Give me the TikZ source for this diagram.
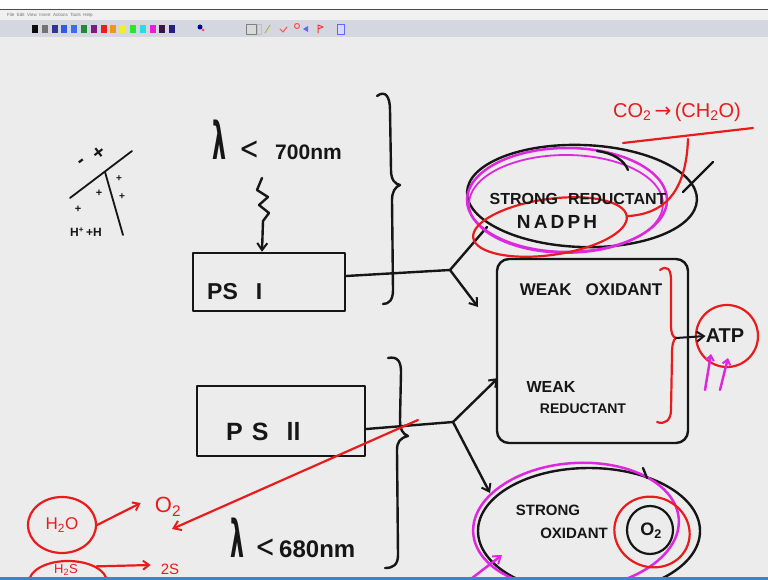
\documentclass[tikz,border=0pt]{standalone}
\usepackage{fontspec}
\setmainfont{Liberation Sans}
\newfontfamily\djv{DejaVu Sans}
\usetikzlibrary{arrows.meta,shapes.geometric}
\definecolor{board}{RGB}{236,236,236}
\definecolor{ink}{RGB}{22,22,22}
\definecolor{mred}{RGB}{232,28,28}
\definecolor{mmag}{RGB}{222,40,222}
\definecolor{barblue}{RGB}{62,132,200}
\definecolor{tbar}{RGB}{212,214,224}
\definecolor{tc0}{RGB}{10,10,10}
\definecolor{tc1}{RGB}{115,115,115}
\definecolor{tc2}{RGB}{55,50,150}
\definecolor{tc3}{RGB}{50,90,225}
\definecolor{tc4}{RGB}{60,110,230}
\definecolor{tc5}{RGB}{30,140,50}
\definecolor{tc6}{RGB}{120,30,130}
\definecolor{tc7}{RGB}{230,30,30}
\definecolor{tc8}{RGB}{240,150,30}
\definecolor{tc9}{RGB}{240,240,40}
\definecolor{tc10}{RGB}{40,230,40}
\definecolor{tc11}{RGB}{40,220,225}
\definecolor{tc12}{RGB}{230,30,220}
\definecolor{tc13}{RGB}{60,20,70}
\definecolor{tc14}{RGB}{40,30,130}
\begin{document}
\begin{tikzpicture}[x=1pt,y=-1pt,line cap=round,line join=round,
  inkline/.style={draw=ink,line width=2.4pt},
  redline/.style={draw=mred,line width=2.2pt},
  magline/.style={draw=mmag,line width=2.5pt},
  hw/.style={text=ink,inner sep=0pt,font=\fontsize{#1}{#1}\selectfont\bfseries},
  hwr/.style={text=mred,inner sep=0pt,font=\fontsize{#1}{#1}\selectfont},
  barb/.style={-{Straight Barb[length=7pt,width=10pt,line width=2pt]}},
  boxnode/.style={draw=ink,line width=2.4pt,inner sep=0pt,rectangle},
  ovalnode/.style={ellipse,inner sep=0pt}]
\useasboundingbox (0,0) rectangle (768,580);
\fill[board] (0,0) rectangle (768,580);
% ---------- window toolbar ----------
\fill[white] (0,0) rectangle (768,9);
\fill[black!70] (0,9) rectangle (768,10.5);
\fill[gray!12] (0,10.5) rectangle (768,20);
\node[anchor=west,inner sep=0pt,text=black!55,font=\fontsize{4.5}{5}\selectfont] (menu) at (7,15.5) {File\ \ Edit\ \ View\ \ Insert\ \ Actions\ \ Tools\ \ Help};
\fill[tbar] (0,20) rectangle (768,37);
\foreach \i in {0,...,14}
  \fill[tc\i] ({32+9.8*\i},25) rectangle ({38+9.8*\i},33);
\fill[blue!60!black] (200,27) circle (2.5);
\fill[red!70] (203,30) circle (1.5);
\draw[gray,line width=0.8pt,fill=gray!30] (246,24) rectangle (256,34);
\draw[gray!50,line width=0.6pt] (257,24) rectangle (261,34);
\draw[yellow!70!black,line width=1pt] (265,33) -- (270,25);
\draw[red!70,line width=1pt] (280,29) -- (283,32) -- (287,27);
\draw[red!70,line width=1pt] (297,26) circle (2.5);
\fill[blue!60] (303,29) -- (308,26) -- (308,32) -- cycle;
\draw[red!80,line width=1pt] (318,33) -- (318,25) -- (323,27) -- (318,29);
\draw[blue!60,line width=0.8pt,fill=blue!15] (337,24) rectangle (344,34);
% ---------- top-left sketch ----------
\draw[inkline,line width=1.8pt] (70,198) -- (132,151);
\draw[inkline,line width=1.8pt] (105,172) -- (123,235);
\node[hw=20,rotate=37] (mn) at (82,163) {-};
\node[hw=20,rotate=37] (mpl) at (99,153) {+};
\node[hw=11] (pl1) at (99,193) {+};
\node[hw=11] (pl2) at (78,209) {+};
\node[hw=12] (hh) at (86,232) {H\textsuperscript{+}\,+H};
\node[hw=10] (pl3) at (119,179) {+};
\node[hw=10] (pl4) at (122,197) {+};
% ---------- PS I ----------
\node[anchor=base west,inner sep=0pt,text=ink] (l700) at (212,160)
  {{\djv\bfseries\fontsize{40}{40}\selectfont\scalebox{0.55}[1.3]{λ}}\hspace{13pt}{\djv\fontsize{32}{32}\selectfont\scalebox{0.75}[1]{<}}\hspace{16pt}{\bfseries\fontsize{21}{21}\selectfont 700nm}};
\draw[inkline] (377,96) .. controls (385,90) and (390,96) .. (390,110) -- (391,170) .. controls (391,180) and (395,184) .. (400,185) .. controls (395,187) and (392,192) .. (392,200) -- (393,290) .. controls (393,300) and (389,304) .. (383,304);
\node[boxnode,minimum width=152pt,minimum height=58pt] (ps1) at (269,282) {};
\node[hw=23,anchor=west] (ps1t) at (207,292) {PS\hspace{18pt}I};
\coordinate (zz) at (262,178);
\draw[inkline,barb] (zz) -- (257,190) -- (268,197) -- (259,205) -- (269,213) -- (263,221) -- ([xshift=-7pt]ps1.north);
\coordinate (b1) at (450,270);
\coordinate (srin) at (487,227);
\coordinate (woin) at (478,307);
\draw[inkline] ([yshift=6pt]ps1.east) -- (b1) -- (srin);
\draw[inkline,barb] (b1) -- (woin);
% ---------- Strong reductant ----------
\node[ovalnode,draw=ink,line width=2.4pt,minimum width=230pt,minimum height=102pt,rotate=-2] (sr) at (582,196) {};
\node[ovalnode,draw=mmag,line width=2.5pt,minimum width=200pt,minimum height=104pt] (srm) at (567,200) {};
\node[ovalnode,draw=mmag,line width=1.8pt,minimum width=194pt,minimum height=98pt] (srm2) at (566,204) {};
\node[ovalnode,draw=mred,line width=2.2pt,minimum width=155pt,minimum height=56pt,rotate=8] (nad) at (550,227) {};
\node[hw=16] (srt) at (578,199) {STRONG\hspace{10pt}REDUCTANT};
\node[hw=19] (nadt) at (557,222) {N\,A\,D\,P\,H};
\draw[inkline] (597,151) .. controls (613,153) and (624,160) .. (628,170);
\draw[inkline] (683,192) -- (713,162);
\node[hwr=20] (co2) at (677,112) {CO\textsubscript{2}\,{\djv →}\,(CH\textsubscript{2}O)};
\coordinate (co2in) at (688,139);
\draw[redline] (623,143) -- (753,128);
\draw[redline] (nad.east) .. controls (662,214) and (686,195) .. (co2in);
% ---------- Weak box ----------
\node[boxnode,rounded corners=12pt,minimum width=191pt,minimum height=184pt] (wb) at (592.5,351) {};
\node[hw=17] (wot) at (591,290) {WEAK\hspace{14pt}OXIDANT};
\node[hw=16] (wrt1) at (551,387) {WEAK};
\node[hw=14] (wrt2) at (583,409) {REDUCTANT};
\coordinate (cusp) at (676,338);
\draw[redline] (660,270) .. controls (667,265) and (671,269) .. (671,280) -- (671,325) .. controls (671,334) and (673,337) .. (cusp) .. controls (673,340) and (672,345) .. (672,355) -- (671,410) .. controls (671,420) and (665,425) .. (657,422);
\node[circle,draw=mred,line width=2.2pt,minimum size=62pt,inner sep=0pt] (atpc) at (727,336) {};
\node[hw=20] (atp) at (725,336) {ATP};
\draw[inkline,line width=2pt,barb] (cusp) -- (atp.west);
\coordinate (m1) at (705,390);
\coordinate (m2) at (720,390);
\draw[magline,-{Straight Barb[length=5pt,width=8pt,line width=2pt]}] (m1) -- (711,354);
\draw[magline,-{Straight Barb[length=5pt,width=8pt,line width=2pt]}] (m2) -- (728,358);
% ---------- PS II ----------
\node[boxnode,minimum width=168pt,minimum height=70pt] (ps2) at (281,421) {};
\node[hw=25,anchor=west] (ps2t) at (226,432) {P\hspace{9pt}S\hspace{18pt}ll};
\coordinate (b2) at (453,422);
\coordinate (wbin) at (498,378);
\coordinate (soin) at (490,493);
\draw[inkline] ([yshift=-8pt]ps2.east) -- (b2);
\draw[inkline,barb] (b2) -- (wbin);
\draw[inkline,barb] (b2) -- (soin);
\draw[inkline] (388,358) .. controls (398,356) and (401,362) .. (401,372) -- (400,420) .. controls (400,430) and (403,434) .. (408,436) .. controls (400,438) and (397,442) .. (397,450) -- (398,555) .. controls (398,565) and (393,568) .. (385,568);
\node[anchor=base west,inner sep=0pt,text=ink] (l680) at (230,557)
  {{\djv\bfseries\fontsize{40}{40}\selectfont\scalebox{0.55}[1.3]{λ}}\hspace{11pt}{\djv\fontsize{32}{32}\selectfont\scalebox{0.75}[1]{<}}\hspace{4pt}{\bfseries\fontsize{24}{24}\selectfont 680nm}};
% ---------- Strong oxidant ----------
\node[ovalnode,draw=ink,line width=2.4pt,minimum width=222pt,minimum height=126pt] (so) at (589,531) {};
\node[ovalnode,draw=mmag,line width=2.5pt,minimum width=206pt,minimum height=126pt,rotate=4] (som) at (576,526) {};
\node[hw=15] (sot1) at (548,510) {STRONG};
\node[hw=15] (sot2) at (574,533) {OXIDANT};
\node[ovalnode,draw=ink,line width=2.2pt,minimum width=46pt,minimum height=48pt] (o2c) at (650,530) {};
\node[ovalnode,draw=mred,line width=2.2pt,minimum width=76pt,minimum height=70pt,rotate=-20] (o2r) at (652,532) {};
\node[hw=18] (o2t) at (651,531) {O\textsubscript{2}};
\draw[inkline] (643,468) -- (647,478);
\coordinate (mtail) at (467,582);
\draw[magline,-{Straight Barb[length=7pt,width=10pt,line width=2pt]}] (mtail) -- (502,555);
% ---------- water splitting ----------
\coordinate (rstart) at (418,420);
\coordinate (rend) at (172,529);
\draw[redline,-{Straight Barb[length=7pt,width=10pt,line width=2pt]}] (rstart) -- (rend);
\node[ovalnode,draw=mred,line width=2.2pt,minimum width=68pt,minimum height=56pt] (h2o) at (62,525) {};
\node[hwr=17] (h2ot) at (62,525) {H\textsubscript{2}O};
\node[hwr=22] (o2) at (168,507) {O\textsubscript{2}};
\draw[redline,-{Straight Barb[length=6pt,width=9pt,line width=2pt]}] (h2o.east) -- ([xshift=-14pt,yshift=4pt]o2.west);
\node[ovalnode,draw=mred,line width=2.2pt,minimum width=78pt,minimum height=42pt] (h2s) at (68,582) {};
\node[hwr=13] (h2st) at (66,570) {H\textsubscript{2}S};
\node[hwr=15] (s2) at (170,569) {2S};
\draw[redline,-{Straight Barb[length=6pt,width=9pt,line width=2pt]}] (h2s.north east) -- ([xshift=-10pt,yshift=4pt]s2.west);
% ---------- bottom bar ----------
\fill[barblue] (0,577) rectangle (768,580);
\end{tikzpicture}
\end{document}
